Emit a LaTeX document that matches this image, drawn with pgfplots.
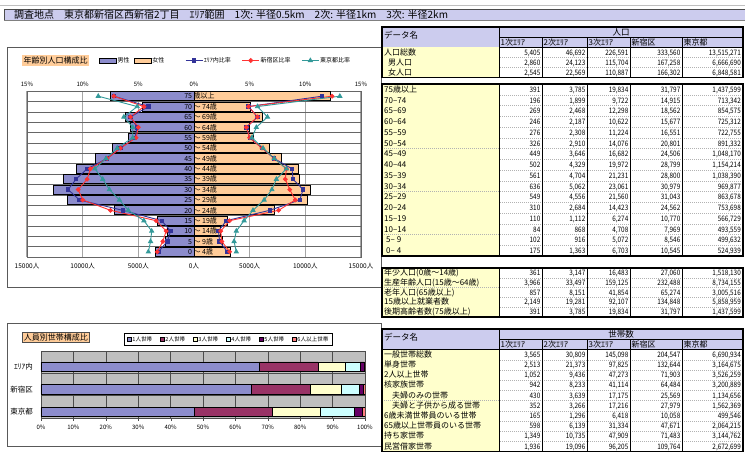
\documentclass[border=0pt]{standalone}
\usepackage{fontspec}
\setmainfont{Noto Sans CJK JP}
\newfontfamily\numfont[FakeStretch=0.85]{Noto Sans CJK JP}
\usepackage{pgfplots}
\usepackage{pgfplotstable}
\pgfplotsset{compat=1.18}
\newcommand{\fsz}[1]{\fontsize{#1}{#1}\selectfont}
\definecolor{hdr}{HTML}{CCCCEE}
\definecolor{namec}{HTML}{FFFFCC}
\definecolor{male}{HTML}{8C8CCC}
\definecolor{female}{HTML}{FFCC99}
\definecolor{navyl}{HTML}{333399}
\definecolor{redl}{HTML}{FF3333}
\definecolor{teall}{HTML}{339999}
\definecolor{hA}{HTML}{8C8CCC}
\definecolor{hB}{HTML}{993366}
\definecolor{hC}{HTML}{FFFFCC}
\definecolor{hD}{HTML}{CCFFFF}
\definecolor{hE}{HTML}{660066}
\definecolor{hF}{HTML}{FF8080}

\pgfplotsset{
  boxlegend/.style={legend image code/.code={\draw[##1] (0pt,-2.5pt) rectangle (17pt,2.5pt);}},
  sqlegend/.style={legend image code/.code={\draw[##1] (0pt,-1.9pt) rectangle (3.8pt,1.9pt);}},
}

\pgfplotstableread{
r  m     f     am   af   sm   sf   tm   tf
15 7540  12290 7.2  11.5 7.2  12.4 8.6  13.1
14 4600  5100  4.1  4.9  4.5  4.9  5.1  5.7
13 6150  6150  5.7  5.7  5.7  5.7  6.3  6.6
12 5680  4940  5.1  4.7  5.0  4.7  5.5  5.6
11 5870  5350  5.3  5.0  5.2  5.0  5.5  5.2
10 7300  6770  6.6  6.1  6.6  6.1  6.9  6.2
9  8870  7810  7.8  7.2  7.8  7.2  7.9  7.2
8  10580 9390  9.6  8.8  9.3  8.3  8.9  8.3
7  11760 9470  10.6 8.9  9.6  8.2  8.2  7.4
6  12580 10480 11.3 9.8  10.4 8.6  7.6  7.0
5  11360 10200 10.3 9.5  10.0 9.1  6.7  6.3
4  7170  7250  6.4  6.8  7.5  7.6  5.9  5.3
3  3240  3030  2.9  2.9  3.4  3.2  4.5  4.5
2  2340  2370  2.1  2.2  2.5  2.4  3.8  3.8
1  2520  2550  2.4  2.3  2.8  2.5  3.9  3.6
0  3470  3230  3.2  3.0  3.3  3.2  4.1  3.8
}\pyr

\tikzset{
  tl/.style={anchor=base west, inner sep=0pt, font=\fsz{8}},
  tn/.style={anchor=base east, inner sep=0pt, font={\numfont\fsz{7.5}}},
  rowsep/.style={draw=gray!60, dash pattern=on 1pt off 1pt, line width=0.3pt},
}
\newcommand{\drow}[8]{%
  \fill[namec] (382,#1) rectangle (499,{#1+#2});
  \draw[rowsep] (382,{#1+#2}) -- (743,{#1+#2});
  \node[tl] at (384,{#1+#2-2.4}) {#3};
  \node[tn] at (540.5,{#1+#2-2.4}) {#4};
  \node[tn] at (585.5,{#1+#2-2.4}) {#5};
  \node[tn] at (628.5,{#1+#2-2.4}) {#6};
  \node[tn] at (680.5,{#1+#2-2.4}) {#7};
  \node[tn] at (741,{#1+#2-2.4}) {#8};
}
\newcommand{\thead}[3]{%
  \fill[hdr] (382,#1) rectangle (743,{#1+2*#3});
  \node[tl, font=\fsz{8.5}] at (384,{#1+#3+1}) {データ名};
  \node[anchor=base, inner sep=0pt, font=\fsz{8.5}] at (621,{#1+#3-2}) {#2};
  \draw[line width=0.5pt] (499,{#1+#3}) -- (743,{#1+#3});
  \node[tl] at (500.5,{#1+2*#3-2.2}) {1次ｴﾘｱ};
  \node[tl] at (543.5,{#1+2*#3-2.2}) {2次ｴﾘｱ};
  \node[tl] at (588.5,{#1+2*#3-2.2}) {3次ｴﾘｱ};
  \node[tl] at (631.5,{#1+2*#3-2.2}) {新宿区};
  \node[tl] at (683.5,{#1+2*#3-2.2}) {東京都};
  \draw[line width=0.5pt] (382,{#1+2*#3}) -- (743,{#1+2*#3});
}
\newcommand{\tframe}[3]{%
  \draw[line width=0.5pt] (499,#1) -- (499,#2);
  \foreach \cx in {542,587,630,682} {\draw[line width=0.5pt] (\cx,#3) -- (\cx,#2);}
  \draw[line width=1.1pt] (382,#1) rectangle (743,#2);
}
\newcommand{\agelab}[3]{%
  \node[anchor=base east, inner sep=0pt, font=\fsz{7}] at (axis cs:-150,#1) {#2};
  \node[anchor=base west, inner sep=0pt, font=\fsz{7}] at (axis cs:-50,#1) {#3};
}

\begin{document}
\begin{tikzpicture}
\path[use as bounding box] (0,0) rectangle (745pt,-452pt);
\begin{scope}[x=1pt,y=-1pt]
  % title bar
  \draw[gray!50, line width=0.8pt] (0,5.5) -- (745,5.5);
  \fill[hdr] (4,9) rectangle (745,20);
  \draw[black!70, line width=0.6pt] (4,20) -- (4,9) -- (745,9);
  \draw[gray, line width=0.5pt] (4,20) -- (745,20);
  \node[anchor=base west, inner sep=0pt, font=\fsz{10}] at (14,18.3)
    {調査地点　東京都新宿区西新宿2丁目　ｴﾘｱ範囲　1次: 半径0.5km　2次: 半径1km　3次: 半径2km};
  % chart frames
  \draw[gray!70!black, line width=0.8pt] (7,47) rectangle (381,287);
  \draw[gray!70!black, line width=0.8pt] (7,323) rectangle (381,446);
  \node[fill=female, inner sep=1.5pt, anchor=west, font=\fsz{8}] at (22,60.5) {年齢別人口構成比};
  \node[fill=female, draw=black!70, line width=0.5pt, inner sep=1.5pt, anchor=west, font=\fsz{8}] at (22,337) {人員別世帯構成比};

  % ---- table 1 : population totals
  \thead{27}{人口}{10.25}
  \drow{47.5}{10}{人口総数}{5,405}{46,692}{226,591}{333,560}{13,515,271}
  \drow{57.5}{10}{\hspace{4pt}男人口}{2,860}{24,123}{115,704}{167,258}{6,666,690}
  \drow{67.5}{10}{\hspace{4pt}女人口}{2,545}{22,569}{110,887}{166,302}{6,848,581}
  \tframe{27}{77.5}{37.25}

  % ---- table 2 : age groups
  \drow{84}{10.75}{75歳以上}{391}{3,785}{19,834}{31,797}{1,437,599}
  \drow{94.75}{10.75}{70–74}{196}{1,899}{9,722}{14,915}{713,342}
  \drow{105.5}{10.75}{65–69}{269}{2,468}{12,298}{18,562}{854,575}
  \drow{116.25}{10.75}{60–64}{246}{2,187}{10,622}{15,677}{725,312}
  \drow{127}{10.75}{55–59}{276}{2,308}{11,224}{16,551}{722,755}
  \drow{137.75}{10.75}{50–54}{326}{2,910}{14,076}{20,801}{891,332}
  \drow{148.5}{10.75}{45–49}{449}{3,646}{16,682}{24,506}{1,048,170}
  \drow{159.25}{10.75}{40–44}{502}{4,329}{19,972}{28,799}{1,154,214}
  \drow{170}{10.75}{35–39}{561}{4,704}{21,231}{28,800}{1,038,390}
  \drow{180.75}{10.75}{30–34}{636}{5,062}{23,061}{30,979}{969,877}
  \drow{191.5}{10.75}{25–29}{549}{4,556}{21,560}{31,043}{863,678}
  \drow{202.25}{10.75}{20–24}{310}{2,684}{14,423}{24,562}{753,698}
  \drow{213}{10.75}{15–19}{110}{1,112}{6,274}{10,770}{566,729}
  \drow{223.75}{10.75}{10–14}{84}{868}{4,708}{7,969}{493,559}
  \drow{234.5}{10.75}{\hspace{2pt}5–\hspace{2pt}9}{102}{916}{5,072}{8,546}{499,632}
  \drow{245.25}{10.75}{\hspace{2pt}0–\hspace{2pt}4}{175}{1,363}{6,703}{10,545}{524,939}
  \tframe{84}{256}{84}

  % ---- table 3 : summary
  \drow{268}{9.8}{年少人口(0歳～14歳)}{361}{3,147}{16,483}{27,060}{1,518,130}
  \drow{277.8}{9.8}{生産年齢人口(15歳～64歳)}{3,966}{33,497}{159,125}{232,488}{8,734,155}
  \drow{287.6}{9.8}{老年人口(65歳以上)}{857}{8,151}{41,854}{65,274}{3,005,516}
  \drow{297.4}{9.8}{15歳以上就業者数}{2,149}{19,281}{92,107}{134,848}{5,858,959}
  \drow{307.2}{9.8}{後期高齢者数(75歳以上)}{391}{3,785}{19,834}{31,797}{1,437,599}
  \tframe{268}{317}{268}

  % ---- table 4 : households
  \thead{329}{世帯数}{10.25}
  \drow{349.5}{10.2}{一般世帯総数}{3,565}{30,809}{145,098}{204,547}{6,690,934}
  \drow{359.7}{10.2}{単身世帯}{2,513}{21,373}{97,825}{132,644}{3,164,675}
  \drow{369.9}{10.2}{2人以上世帯}{1,052}{9,436}{47,273}{71,903}{3,526,259}
  \drow{380.1}{10.2}{核家族世帯}{942}{8,233}{41,114}{64,484}{3,200,889}
  \drow{390.3}{10.2}{\hspace{8pt}夫婦のみの世帯}{430}{3,639}{17,175}{25,569}{1,134,656}
  \drow{400.5}{10.2}{\hspace{8pt}夫婦と子供から成る世帯}{352}{3,266}{17,216}{27,979}{1,562,369}
  \drow{410.7}{10.2}{6歳未満世帯員のいる世帯}{165}{1,296}{6,418}{10,058}{499,546}
  \drow{420.9}{10.2}{65歳以上世帯員のいる世帯}{598}{6,139}{31,334}{47,671}{2,064,215}
  \drow{431.1}{10.2}{持ち家世帯}{1,349}{10,735}{47,909}{71,483}{3,144,762}
  \drow{441.3}{10.2}{民営借家世帯}{1,936}{19,096}{96,205}{109,764}{2,672,699}
  \tframe{329}{451.5}{339.25}
\end{scope}

% ================= population pyramid: bars (persons) =================
\begin{axis}[
  at={(27pt,-257pt)}, anchor=south west, scale only axis,
  width=334pt, height=166pt,
  xmin=-15000, xmax=15000, ymin=-0.5, ymax=15.5,
  scaled x ticks=false,
  xtick={-15000,-10000,-5000,0,5000,10000,15000},
  xticklabels={15000人,10000人,5000人,0人,5000人,10000人,15000人},
  xtick pos=left, xmajorgrids,
  x grid style={gray!70, line width=1.1pt},
  ytick={0.5,1.5,...,14.5}, yticklabels={}, ymajorgrids,
  y grid style={black!60, line width=0.5pt},
  major tick length=0pt,
  axis line style={black!60, line width=0.8pt},
  xticklabel style={font=\fsz{6.5}, yshift=-2.5pt},
  clip=false,
]
\addplot[xbar, bar shift=0pt, bar width=0.88, fill=male, draw=black, line width=0.9pt]
  table[x expr=-\thisrow{m}, y=r]{\pyr};
\addplot[xbar, bar shift=0pt, bar width=0.88, fill=female, draw=black, line width=0.9pt]
  table[x=f, y=r]{\pyr};
\agelab{14.73}{75}{歳以上}
\agelab{13.73}{70}{～ 74歳}
\agelab{12.73}{65}{～ 69歳}
\agelab{11.73}{60}{～ 64歳}
\agelab{10.73}{55}{～ 59歳}
\agelab{9.73}{50}{～ 54歳}
\agelab{8.73}{45}{～ 49歳}
\agelab{7.73}{40}{～ 44歳}
\agelab{6.73}{35}{～ 39歳}
\agelab{5.73}{30}{～ 34歳}
\agelab{4.73}{25}{～ 29歳}
\agelab{3.73}{20}{～ 24歳}
\agelab{2.73}{15}{～ 19歳}
\agelab{1.73}{10}{～ 14歳}
\agelab{0.73}{5}{～ 9歳}
\agelab{-0.27}{0}{～ 4歳}
\end{axis}

% ================= population pyramid: ratio lines (%) =================
\begin{axis}[
  at={(27pt,-257pt)}, anchor=south west, scale only axis,
  width=334pt, height=166pt,
  xmin=-15, xmax=15, ymin=-0.5, ymax=15.5,
  axis x line*=top, axis y line=none,
  axis line style={draw=none},
  xtick={-15,-10,-5,0,5,10,15},
  xticklabels={15\%,10\%,5\%,0\%,5\%,10\%,15\%},
  major tick length=0pt,
  xticklabel style={font=\fsz{6}, yshift=1pt},
  clip=false,
  legend columns=-1,
  legend style={at={(0.2066,1.1837)}, anchor=west, draw=none, fill=none,
    font=\fsz{6}, nodes={inner sep=0.8pt},
    /tikz/column 2/.style={column sep=3.8pt},
    /tikz/column 4/.style={column sep=20pt},
    /tikz/column 6/.style={column sep=10pt},
    /tikz/column 8/.style={column sep=10pt}},
]
\addlegendimage{boxlegend, fill=male, draw=black, line width=0.5pt}
\addlegendentry{男性}
\addlegendimage{boxlegend, fill=female, draw=black, line width=0.5pt}
\addlegendentry{女性}
\addplot[navyl, line width=0.9pt, mark=square*, mark size=1.7pt, mark options={fill=navyl}]
  table[x expr=-\thisrow{am}, y=r]{\pyr};
\addlegendentry{ｴﾘｱ内比率}
\addplot[redl, line width=0.9pt, mark=*, mark size=1.9pt, mark options={fill=redl}]
  table[x expr=-\thisrow{sm}, y=r]{\pyr};
\addlegendentry{新宿区比率}
\addplot[teall, line width=0.9pt, mark=triangle*, mark size=2.3pt, mark options={fill=teall}]
  table[x expr=-\thisrow{tm}, y=r]{\pyr};
\addlegendentry{東京都比率}
\addplot[forget plot, navyl, line width=0.9pt, mark=square*, mark size=1.7pt, mark options={fill=navyl}]
  table[x=af, y=r]{\pyr};
\addplot[forget plot, redl, line width=0.9pt, mark=*, mark size=1.9pt, mark options={fill=redl}]
  table[x=sf, y=r]{\pyr};
\addplot[forget plot, teall, line width=0.9pt, mark=triangle*, mark size=2.3pt, mark options={fill=teall}]
  table[x=tf, y=r]{\pyr};
\end{axis}

% ================= household composition (stacked %) =================
\begin{axis}[
  at={(41pt,-418pt)}, anchor=south west, scale only axis,
  width=324pt, height=67pt,
  xbar stacked, bar width=0.415,
  xmin=0, xmax=100, ymin=0, ymax=3,
  xtick={0,10,...,100},
  xticklabels={0\%,10\%,20\%,30\%,40\%,50\%,60\%,70\%,80\%,90\%,100\%},
  ytick={0.27,1.29,2.31}, yticklabels={東京都,新宿区,ｴﾘｱ内},
  xmajorgrids, x grid style={black!70, line width=0.5pt},
  extra y ticks={1,2}, extra y tick labels={},
  extra y tick style={grid=major, grid style={black!70, line width=0.5pt}},
  axis background/.style={fill=black!25},
  axis line style={black!70, line width=0.6pt},
  tick style={black!70}, tick align=outside, tick pos=left,
  major tick length=2.5pt, ytick style={draw=none},
  xticklabel style={font=\fsz{6}, yshift=-1pt},
  yticklabel style={font=\fsz{7.5}, xshift=-2pt},
  legend columns=6,
  legend style={at={(0.256,1.17)}, anchor=west, draw=black, fill=white,
    line width=0.5pt, font=\fsz{5.6}, nodes={inner sep=0.9pt},
    /tikz/every even column/.append style={column sep=7pt}},
]
\addplot[sqlegend, fill=hA, draw=black, line width=0.5pt] coordinates {(47.2,0.27) (64.8,1.29) (67.3,2.31)};
\addlegendentry{1人世帯}
\addplot[sqlegend, fill=hB, draw=black, line width=0.5pt] coordinates {(24.3,0.27) (18.4,1.29) (18.2,2.31)};
\addlegendentry{2人世帯}
\addplot[sqlegend, fill=hC, draw=black, line width=0.5pt] coordinates {(14.8,0.27) (9.6,1.29) (8.3,2.31)};
\addlegendentry{3人世帯}
\addplot[sqlegend, fill=hD, draw=black, line width=0.5pt] coordinates {(10.4,0.27) (5.4,1.29) (4.7,2.31)};
\addlegendentry{4人世帯}
\addplot[sqlegend, fill=hE, draw=black, line width=0.5pt] coordinates {(2.5,0.27) (1.2,1.29) (1.2,2.31)};
\addlegendentry{5人世帯}
\addplot[sqlegend, fill=hF, draw=black, line width=0.5pt] coordinates {(0.8,0.27) (0.6,1.29) (0.3,2.31)};
\addlegendentry{6人以上世帯}
\end{axis}
\end{tikzpicture}
\end{document}
